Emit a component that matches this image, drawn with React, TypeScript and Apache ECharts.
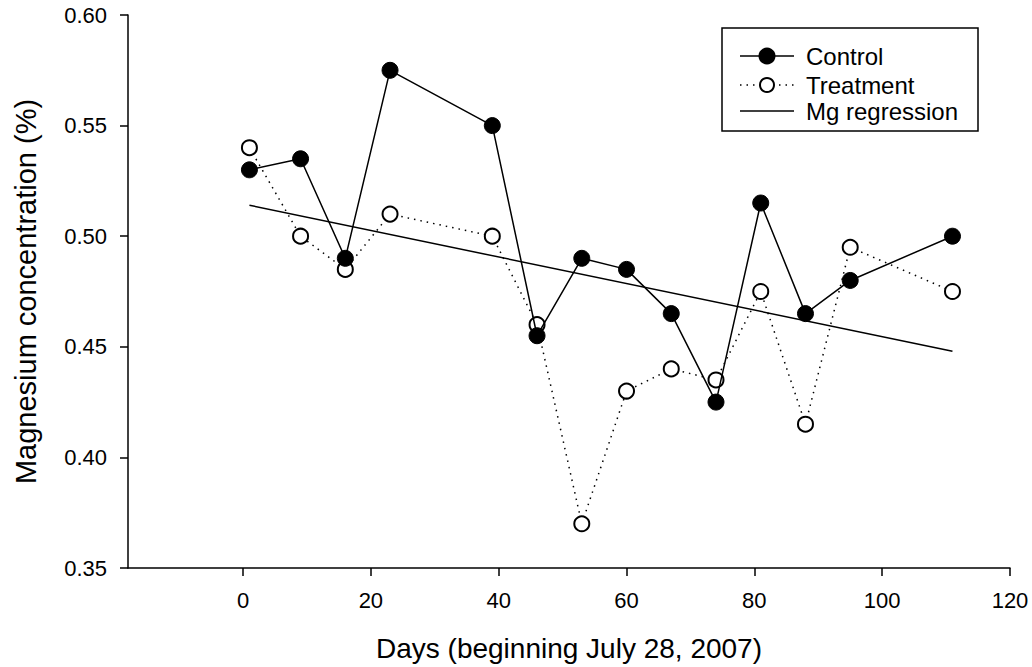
import React, { useEffect, useRef } from "react";
import * as echarts from "echarts";

const days = [1, 9, 16, 23, 39, 46, 53, 60, 67, 74, 81, 88, 95, 111];
const control = [0.53, 0.535, 0.49, 0.575, 0.55, 0.455, 0.49, 0.485, 0.465, 0.425, 0.515, 0.465, 0.48, 0.5];
const treatment = [0.54, 0.5, 0.485, 0.51, 0.5, 0.46, 0.37, 0.43, 0.44, 0.435, 0.475, 0.415, 0.495, 0.475];
const regressionDays = [1, 111];
const regressionValues = [0.514, 0.448];
const xTicks = [0, 20, 40, 60, 80, 100, 120];
const legendNames = ["Control", "Treatment", "Mg regression"];

const FONT = "Liberation Sans, Arial, Helvetica, sans-serif";

function legendGraphic() {
  const left = 722;
  const top = 28;
  const ys = [56, 85, 111];
  const x1 = 740;
  const x2 = 794;
  const cx = 767;
  const els: any[] = [
    {
      type: "rect",
      shape: { x: left, y: top, width: 256, height: 103 },
      style: { fill: "#fff", stroke: "#000", lineWidth: 1.5 },
      z: 10,
    },
  ];
  legendNames.forEach((name, i) => {
    const y = ys[i];
    els.push({
      type: "line",
      shape: { x1, y1: y, x2, y2: y },
      style: {
        stroke: "#000",
        lineWidth: 1.5,
        lineDash: i === 1 ? [1.5, 5] : null,
      },
      z: 11,
    });
    if (i < 2) {
      els.push({
        type: "circle",
        shape: { cx, cy: y, r: i === 0 ? 7.5 : 7 },
        style: { fill: i === 0 ? "#000" : "#fff", stroke: "#000", lineWidth: 2 },
        z: 12,
      });
    }
    els.push({
      type: "text",
      x: 806,
      y,
      style: {
        text: name,
        fontFamily: FONT,
        fontSize: 24,
        fill: "#000",
        verticalAlign: "middle",
        align: "left",
      },
      z: 12,
    });
  });
  return els;
}

export default function App() {
  const ref = useRef<HTMLDivElement>(null);
  useEffect(() => {
    if (!ref.current) return;
    const chart = echarts.init(ref.current, undefined, { renderer: "svg" });
    chart.setOption({
      animation: false,
      backgroundColor: "#fff",
      textStyle: { fontFamily: FONT, color: "#000" },
      grid: { left: 128, right: 22, top: 15, bottom: 94, containLabel: false },
      graphic: legendGraphic(),
      xAxis: {
        type: "value",
        min: -18,
        max: 120,
        name: "Days (beginning July 28, 2007)",
        nameLocation: "middle",
        nameGap: 66,
        nameTextStyle: { fontFamily: FONT, fontSize: 28, color: "#000" },
        axisLine: { show: true, onZero: false, lineStyle: { color: "#000", width: 1.5 } },
        axisTick: { show: true, inside: false, length: 8, lineStyle: { color: "#000", width: 1.5 }, customValues: xTicks },
        axisLabel: { fontFamily: FONT, fontSize: 22, color: "#000", margin: 21, customValues: xTicks, formatter: (v: number) => String(v) },
        splitLine: { show: false },
      },
      yAxis: {
        type: "value",
        min: 0.35,
        max: 0.6,
        interval: 0.05,
        name: "Magnesium concentration (%)",
        nameLocation: "middle",
        nameGap: 88,
        nameTextStyle: { fontFamily: FONT, fontSize: 29, color: "#000" },
        axisLine: { show: true, onZero: false, lineStyle: { color: "#000", width: 1.5 } },
        axisTick: { show: true, inside: false, length: 8, lineStyle: { color: "#000", width: 1.5 } },
        axisLabel: { fontFamily: FONT, fontSize: 22, color: "#000", margin: 21, formatter: (v: number) => v.toFixed(2) },
        splitLine: { show: false },
      },
      series: [
        {
          name: "Mg regression",
          type: "line",
          data: regressionDays.map((d, i) => [d, regressionValues[i]]),
          symbol: "none",
          lineStyle: { color: "#000", width: 1.5 },
          itemStyle: { color: "#000" },
          z: 1,
        },
        {
          name: "Treatment",
          type: "line",
          data: days.map((d, i) => [d, treatment[i]]),
          symbol: "circle",
          symbolSize: 15,
          lineStyle: { color: "#000", width: 1.5, type: [1.5, 5] },
          itemStyle: { color: "#fff", borderColor: "#000", borderWidth: 2 },
          z: 2,
        },
        {
          name: "Control",
          type: "line",
          data: days.map((d, i) => [d, control[i]]),
          symbol: "circle",
          symbolSize: 16,
          lineStyle: { color: "#000", width: 1.5 },
          itemStyle: { color: "#000", borderColor: "#000", borderWidth: 1 },
          z: 3,
        },
      ],
    });
    return () => chart.dispose();
  }, []);
  return (
    <div
      ref={ref}
      style={{ position: "fixed", left: 0, top: 0, width: 1032, height: 667, background: "#fff" }}
    />
  );
}
